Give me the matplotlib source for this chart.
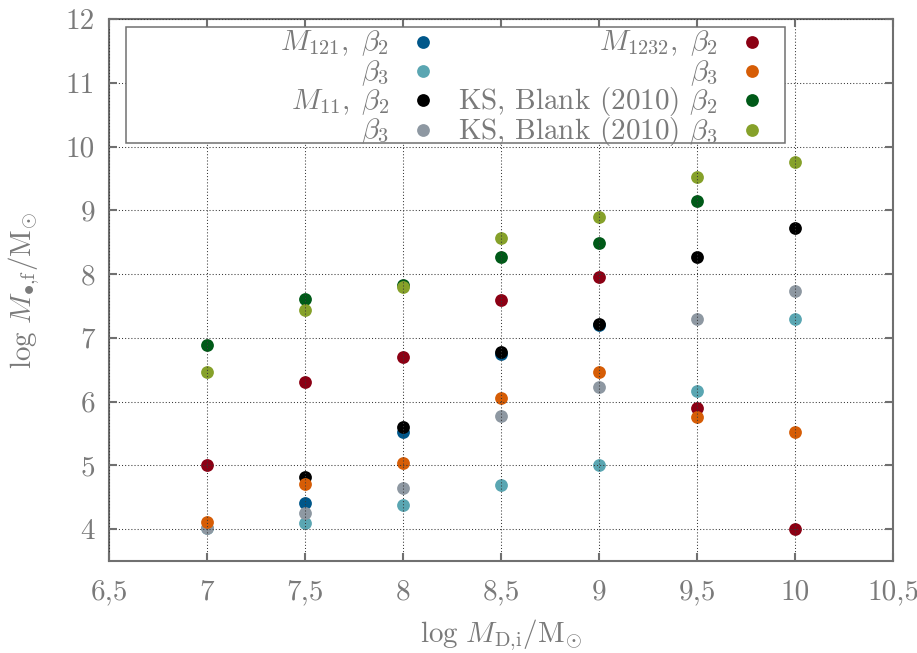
import matplotlib
matplotlib.use("Agg")
import matplotlib.pyplot as plt
from matplotlib.ticker import FixedLocator, FuncFormatter
from matplotlib.patches import Rectangle

plt.rcParams['font.family'] = ['cmr10', 'DejaVu Serif']
plt.rcParams['mathtext.fontset'] = 'cm'
plt.rcParams['axes.formatter.use_mathtext'] = True

# ---- data ----
x_full = [7, 7.5, 8, 8.5, 9, 9.5, 10]
x_m121_b2 = [7.5, 8, 8.5, 9]
m121_b2 = [4.41, 5.52, 6.75, 7.20]
m121_b3 = [4.01, 4.10, 4.38, 4.69, 5.01, 6.17, 7.29]
x_m11_b2 = [7.5, 8, 8.5, 9, 9.5, 10]
m11_b2 = [4.82, 5.60, 6.77, 7.22, 8.27, 8.72]
m11_b3 = [4.01, 4.25, 4.64, 5.77, 6.23, 7.29, 7.73]
m1232_b2 = [5.01, 6.30, 6.70, 7.59, 7.95, 5.90, 4.00]
m1232_b3 = [4.11, 4.71, 5.04, 6.06, 6.47, 5.76, 5.52]
x_ks_b2 = [7, 7.5, 8, 8.5, 9, 9.5]
ks_b2 = [6.89, 7.61, 7.83, 8.27, 8.49, 9.15]
ks_b3 = [6.46, 7.44, 7.79, 8.56, 8.89, 9.52, 9.75]

x_ticks = [6.5, 7, 7.5, 8, 8.5, 9, 9.5, 10, 10.5]
y_ticks = [4, 5, 6, 7, 8, 9, 10, 11, 12]

series = [
    (x_m121_b2, m121_b2, '#00578a', r'$M_{121},\;\beta_2$'),
    (x_full, m121_b3, '#5aa6b2', r'$\beta_3$'),
    (x_m11_b2, m11_b2, '#000000', r'$M_{11},\;\beta_2$'),
    (x_full, m11_b3, '#8e98a2', r'$\beta_3$'),
    (x_full, m1232_b2, '#8c0014', r'$M_{1232},\;\beta_2$'),
    (x_full, m1232_b3, '#d65d06', r'$\beta_3$'),
    (x_ks_b2, ks_b2, '#005a18', r'KS, Blank (2010) $\beta_2$'),
    (x_full, ks_b3, '#86a12a', r'KS, Blank (2010) $\beta_3$'),
]

W, H = 917, 653
fig = plt.figure(figsize=(W / 100, H / 100), dpi=100)
L, R, T, B = 109, 893, 19, 561
ax = fig.add_axes([L / W, 1 - B / H, (R - L) / W, (B - T) / H])

text_col = '#7a7a7a'
frame_col = '#707070'
ms = 9.2

for xs, ys, c, lab in series:
    ax.plot(xs, ys, 'o', color=c, ms=ms, mec='none', zorder=2)

ax.set_xlim(6.5, 10.5)
ax.set_ylim(3.5, 12)
ax.xaxis.set_major_locator(FixedLocator(x_ticks))
ax.yaxis.set_major_locator(FixedLocator(y_ticks))
fmt = FuncFormatter(lambda v, p: ('%g' % v).replace('.', ','))
ax.xaxis.set_major_formatter(fmt)
ax.yaxis.set_major_formatter(fmt)

ax.set_axisbelow(False)
ax.grid(True, color='#383838', linestyle=(0, (1, 2)), linewidth=0.75, zorder=2.5)

for s in ax.spines.values():
    s.set_color(frame_col)
    s.set_linewidth(1.5)
ax.tick_params(which='both', direction='in', length=6, width=1.5, color=frame_col,
               top=True, right=True, labelsize=21, labelcolor=text_col)
ax.tick_params(axis='x', pad=13)
ax.tick_params(axis='y', pad=10)

fig.text(501 / W, 1 - 642 / H, r'$\log\, M_{\mathrm{D{,}i}}/\mathrm{M}_{\odot}$',
         ha='center', va='baseline', fontsize=21, color=text_col)
fig.text(24 / W, 1 - 290 / H, r'$\log\, M_{\bullet{,}\mathrm{f}}/\mathrm{M}_{\odot}$',
         ha='center', va='center', rotation=90, fontsize=21, color=text_col)

# ---- key ----
aw, ah = R - L, B - T
def fx(px):
    return (px - L) / aw
def fy(py):
    return (B - py) / ah

ax.add_patch(Rectangle((fx(126), fy(143)), fx(785) - fx(126), fy(27) - fy(143),
                       transform=ax.transAxes, facecolor='white', edgecolor=frame_col,
                       linewidth=1.1, zorder=5, clip_on=False))
rows_y = [41.5, 70.8, 100.0, 129.5]
cols = [(389, 423), (718, 752)]
for i, (xs, ys, c, lab) in enumerate(series):
    col, row = divmod(i, 4)
    tx, mx = cols[col]
    py = rows_y[row]
    ax.text(fx(tx), fy(py + 9), lab, transform=ax.transAxes, ha='right', va='baseline',
            fontsize=21, color=text_col, zorder=6)
    ax.plot([fx(mx)], [fy(py)], 'o', color=c, ms=ms, mec='none',
            transform=ax.transAxes, clip_on=False, zorder=6)

fig.savefig('out.png', dpi=100)
